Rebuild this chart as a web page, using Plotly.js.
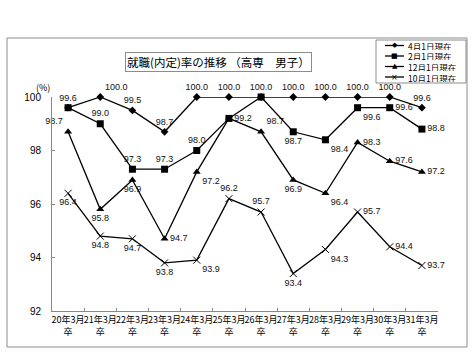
<!DOCTYPE html>
<html>
<head>
<meta charset="utf-8">
<script src="https://cdn.plot.ly/plotly-3.0.1.min.js"></script>
<style>html,body{margin:0;padding:0;background:#fff}#chart{width:474px;height:353px}</style>
</head>
<body>
<div id="chart"></div>
<script>
// ---- data ----
const categories = ['20年3月卒','21年3月卒','22年3月卒','23年3月卒','24年3月卒','25年3月卒','26年3月卒','27年3月卒','28年3月卒','29年3月卒','30年3月卒','31年3月卒'];
const tickLabels = ['20年3月<br>卒','21年3月<br>卒','22年3月<br>卒','23年3月<br>卒','24年3月<br>卒','25年3月<br>卒','26年3月<br>卒','27年3月<br>卒','28年3月<br>卒','29年3月<br>卒','30年3月<br>卒','31年3月<br>卒'];
const seriesNames = ['4月1日現在','2月1日現在','12月1日現在','10月1日現在'];
const april1 = [99.6,100.0,99.5,98.7,100.0,100.0,100.0,100.0,100.0,100.0,100.0,99.6];
const feb1   = [99.6,99.0,97.3,97.3,98.0,99.2,100.0,98.7,98.4,99.6,99.6,98.8];
const dec1   = [98.7,95.8,96.9,94.7,97.2,99.2,98.7,96.9,96.4,98.3,97.6,97.2];
const oct1   = [96.4,94.8,94.7,93.8,93.9,96.2,95.7,93.4,94.3,95.7,94.4,93.7];

// ---- label placement (style) ----
const TC='top center',TR='top right',TL='top left',BC='bottom center',BR='bottom right',MR='middle right';
const posApr = [TC,TR,TC,TC,TC,TC,TC,TC,TC,TC,TC,TC];
const posFeb = [TC,TC,TC,TC,TC,MR,TC,BC,BR,BR,MR,MR];
const posDec = [TL,BC,BC,MR,BR,TC,TR,BC,BR,MR,MR,MR];
const posOct = [BC,BC,BC,BC,BR,TC,TC,BC,BR,MR,MR,MR];
// labels drawn once where two series share a point
const hideFeb = [0,6];
const hideDec = [5];

function labels(vals, hide){ return vals.map((v,i)=> (hide||[]).includes(i) ? '' : v.toFixed(1)); }

const lineStyle = {color:'#000', width:1.3};
const labelFont = {family:'Liberation Sans, Arial, sans-serif', size:9, color:'#111'};
function trace(name, vals, pos, hide, marker){
  return {type:'scatter', mode:'lines+markers+text', name:name, x:categories, y:vals,
    text:labels(vals,hide), textposition:pos, textfont:labelFont, cliponaxis:false,
    line:lineStyle, marker:marker, showlegend:false, hoverinfo:'skip'};
}
const traces = [
  trace(seriesNames[3], oct1, posOct, [], {symbol:'x-thin', size:7, line:{color:'#000', width:1}, color:'#000'}),
  trace(seriesNames[2], dec1, posDec, hideDec, {symbol:'triangle-up', size:7, color:'#000'}),
  trace(seriesNames[1], feb1, posFeb, hideFeb, {symbol:'square', size:7, color:'#000'}),
  trace(seriesNames[0], april1, posApr, [], {symbol:'diamond', size:6, color:'#000'})
];

// ---- pixel helpers for decorations (plot area: x 52..438, y 97..311) ----
const L=52, R=438, T=97, B=311;
const PX = p => (p-L)/(R-L);
const PY = p => (B-p)/(B-T);

const shapes = [
  {type:'rect', xref:'paper', yref:'paper', x0:PX(7), x1:PX(467), y0:PY(347), y1:PY(38), line:{color:'#8c8c8c', width:1}},
  {type:'rect', xref:'paper', yref:'paper', x0:PX(376), x1:PX(466), y0:PY(83), y1:PY(40), line:{color:'#8c8c8c', width:1}, fillcolor:'#fff', layer:'above'}
];
const annotations = [
  {xref:'paper', yref:'paper', x:PX(218), y:PY(62), xanchor:'center', yanchor:'middle', text:'就職(内定)率の推移 （高専　男子）', showarrow:false,
   font:{family:'Noto Sans CJK JP', size:11.5, color:'#000'}, bordercolor:'#8c8c8c', borderwidth:1, borderpad:1, bgcolor:'#fff'},
  {xref:'paper', yref:'paper', x:PX(43), y:PY(87), xanchor:'center', yanchor:'middle', text:'(%)', showarrow:false, font:{family:'Noto Sans CJK JP', size:9, color:'#000'}}
];
const legendRows = [45.5, 56, 66.5, 77];
const glyphs = ['◆','■','▲','×'];
const glyphSize = [7,7,7,8];
seriesNames.forEach((n,i)=>{
  const y = legendRows[i];
  shapes.push({type:'line', xref:'paper', yref:'paper', x0:PX(385), x1:PX(404), y0:PY(y), y1:PY(y), line:{color:'#000', width:1.3}, layer:'above'});
  annotations.push({xref:'paper', yref:'paper', x:PX(394.5), y:PY(y), xanchor:'center', yanchor:'middle', text:glyphs[i], showarrow:false,
    font:{family:'DejaVu Sans', size:glyphSize[i], color:'#000'}});
  annotations.push({xref:'paper', yref:'paper', x:PX(407), y:PY(y), xanchor:'left', yanchor:'middle', text:n, showarrow:false,
    font:{family:'Noto Sans CJK JP', size:8.5, color:'#000'}, height:9, borderpad:0});
});

const layout = {
  width:474, height:353,
  margin:{l:L, r:474-R, t:T, b:353-B, pad:0},
  paper_bgcolor:'#fff', plot_bgcolor:'#fff',
  showlegend:false,
  xaxis:{type:'category', range:[-0.5,11.5], tickvals:categories, ticktext:tickLabels, tickson:'boundaries', tickangle:0,
    ticks:'inside', ticklen:3, tickcolor:'#888', showline:true, linecolor:'#888', linewidth:1, showgrid:false, zeroline:false,
    tickfont:{family:'Noto Sans CJK JP', size:9, color:'#000'}, fixedrange:true},
  yaxis:{range:[92,100], tickvals:[92,94,96,98,100], ticks:'inside', ticklen:3, tickcolor:'#888',
    showline:true, linecolor:'#888', linewidth:1, showgrid:false, zeroline:false, ticklabelstandoff:8,
    tickfont:{family:'Liberation Sans, Arial, sans-serif', size:10, color:'#000'}, fixedrange:true},
  shapes:shapes, annotations:annotations
};
Plotly.newPlot('chart', traces, layout, {displayModeBar:false, staticPlot:true});
</script>
</body>
</html>
